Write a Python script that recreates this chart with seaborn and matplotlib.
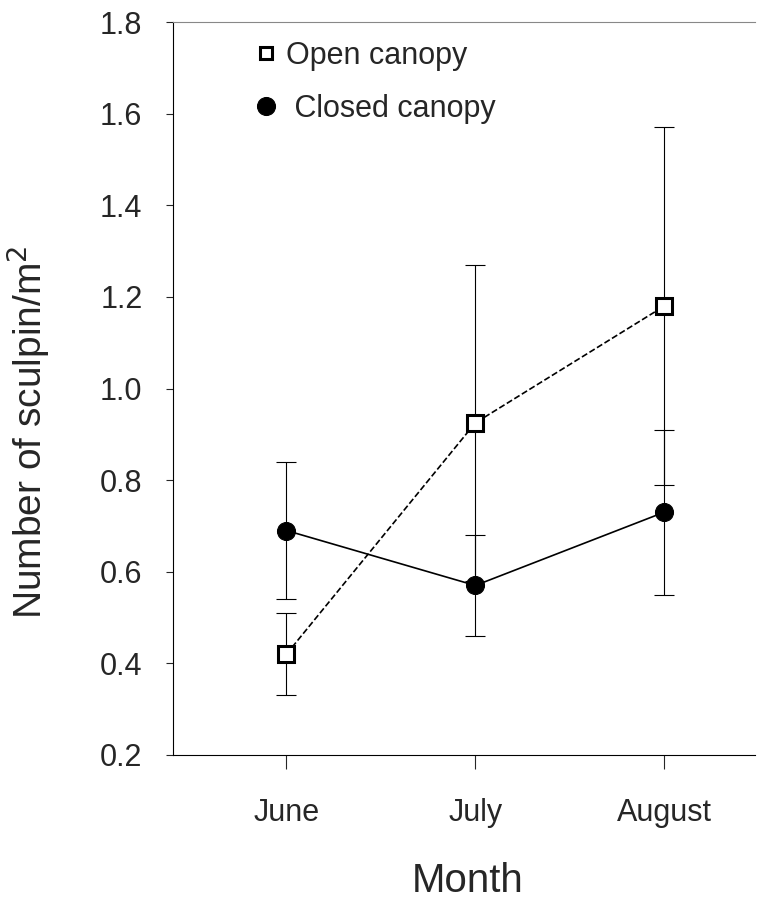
import matplotlib
matplotlib.use('Agg')
import matplotlib.pyplot as plt
import seaborn as sns
import pandas as pd

# values
months = ['June', 'July', 'August']
open_mean = [0.42, 0.925, 1.18]
open_err = [0.09, 0.345, 0.39]
closed_mean = [0.69, 0.57, 0.73]
closed_err = [0.15, 0.11, 0.18]

sns.set_style('ticks')
plt.rcParams['font.family'] = ['Liberation Sans', 'DejaVu Sans']

df = pd.DataFrame({
    'month': months * 2,
    'value': open_mean + closed_mean,
    'group': ['Open canopy'] * 3 + ['Closed canopy'] * 3,
})

fig = plt.figure(figsize=(7.84, 9.19), dpi=100)
ax = fig.add_axes([0.2207, 0.1785, 0.7423, 0.7975])

# error bars first so markers sit on top
ax.errorbar(months, open_mean, yerr=open_err, fmt='none', ecolor='black',
            elinewidth=0.8, capsize=7, capthick=0.8, zorder=1)
ax.errorbar(months, closed_mean, yerr=closed_err, fmt='none', ecolor='black',
            elinewidth=0.8, capsize=7, capthick=0.8, zorder=1)

sub = df[df.group == 'Open canopy']
sns.lineplot(data=sub, x='month', y='value', ax=ax, color='black', lw=1.2,
             linestyle='--', marker='s', markersize=11, markerfacecolor='white',
             markeredgecolor='black', markeredgewidth=2.2, label='Open canopy',
             sort=False, zorder=3)
sub = df[df.group == 'Closed canopy']
sns.lineplot(data=sub, x='month', y='value', ax=ax, color='black', lw=1.2,
             marker='o', markersize=13, markerfacecolor='black',
             markeredgecolor='black', label=' Closed canopy', sort=False, zorder=3)

ax.set_xlim(-0.6, 2.48)
ax.set_ylim(0.2, 1.8)
ax.set_yticks([0.2, 0.4, 0.6, 0.8, 1.0, 1.2, 1.4, 1.6, 1.8])
ax.set_yticklabels(['0.2', '0.4', '0.6', '0.8', '1.0', '1.2', '1.4', '1.6', '1.8'])
ax.tick_params(axis='y', labelsize=22, length=5, width=0.8, pad=17)
ax.tick_params(axis='x', labelsize=22, length=10, width=0.8, pad=21)

ax.set_xlabel('Month', fontsize=29)
ax.xaxis.set_label_coords(0.507, -0.146)
ax.set_ylabel('Number of sculpin/m$^2$', fontsize=28)
ax.yaxis.set_label_coords(-0.208, 0.44)

for s in ['left', 'top', 'bottom']:
    ax.spines[s].set_linewidth(0.8)
    ax.spines[s].set_color('black')
ax.spines['top'].set_color('#888888')
ax.spines['right'].set_visible(False)

leg = ax.legend(loc='upper left', bbox_to_anchor=(0.10, 1.012), frameon=False,
                fontsize=22, handlelength=0.5, handletextpad=0.4, labelspacing=0.75)
for h in leg.legend_handles:
    h.set_linestyle('None')
leg.legend_handles[0].set_markersize(9)
leg.legend_handles[1].set_markersize(13)

fig.savefig('out.png', dpi=100)
